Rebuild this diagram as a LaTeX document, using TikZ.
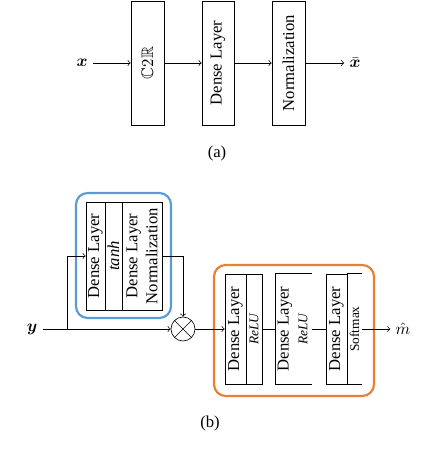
\documentclass[tikz,border=0pt]{standalone}
\usepackage{amsmath,amssymb,bm}
\usepackage{fontspec}
\setmainfont{Liberation Serif}
\definecolor{encblue}{RGB}{91,155,213}
\definecolor{decorange}{RGB}{237,125,49}
\tikzset{
  layer/.style={draw, rotate=90, inner sep=0pt, align=center},
  openlayer/.style={rotate=90, inner sep=0pt, align=center},
  group/.style={draw, line width=1.3pt, rounded corners=7pt},
  lbl/.style={inner sep=3pt},
}
\begin{document}
\begin{tikzpicture}[x=0.6pt, y=-0.6pt]
    \useasboundingbox (0,0) rectangle (434,468);

    \node[lbl] (x) at (82,63) {$\bm{x}$};
    \node[layer, minimum width=74.4pt, minimum height=19.8pt] (c2r) at (147.5,63) {$\mathbb{C}2\mathbb{R}$};
    \node[layer, minimum width=74.4pt, minimum height=19.2pt] (dense) at (218,63) {Dense Layer};
    \node[layer, minimum width=74.4pt, minimum height=19.8pt] (norm) at (288.5,63) {Normalization};
    \node[lbl] (xbar) at (355,63) {$\bar{\bm{x}}$};
    \node (a) at (217,153) {(a)};

    \draw[->] (x) -- (c2r);
    \draw[->] (c2r) -- (dense);
    \draw[->] (dense) -- (norm);
    \draw[->] (norm) -- (xbar);

    \node[group, draw=encblue, minimum width=57pt, minimum height=75pt] (enc) at (123.5,255.5) {};
    \node[layer, minimum width=64.8pt, minimum height=11.4pt] (e1) at (95.5,256) {Dense Layer};
    \node[layer, minimum width=64.8pt, minimum height=10.2pt, font=\itshape] (e2) at (113.5,256) {tanh};
    \node[layer, minimum width=64.8pt, minimum height=24pt] (e3) at (142,256) {Dense Layer\\Normalization};

    \node[lbl] (y) at (32,329) {$\bm{y}$};
    \coordinate (sp) at (67,329);
    \node[draw, circle, minimum size=14.4pt, inner sep=0pt] (mul) at (183,329) {};
    \draw (mul.north west) -- (mul.south east) (mul.north east) -- (mul.south west);

    \draw (y) -- (sp);
    \draw[->] (sp) -- (mul);
    \draw[->] (sp) |- (e1);
    \draw[->] (e3) -| (mul);

    \node[group, draw=decorange, minimum width=96pt, minimum height=78.6pt] (dec) at (294,330.5) {};
    \node[layer, minimum width=66pt, minimum height=12.6pt] (d1) at (235.5,329) {Dense Layer};
    \node[layer, minimum width=66pt, minimum height=9.6pt, font=\footnotesize\itshape] (d2) at (254,329) {ReLU};
    \node[openlayer, minimum width=66pt, minimum height=10.8pt] (d3) at (285,329) {Dense Layer};
    \node[openlayer, minimum width=66pt, minimum height=10.8pt, font=\footnotesize\itshape] (d4) at (303,329) {ReLU};
    \draw (d4.south east) -- (d3.north east) -- (d3.north west) -- (d4.south west);
    \node[layer, minimum width=66pt, minimum height=12.6pt] (d5) at (336.5,329) {Dense Layer};
    \node[openlayer, minimum width=66pt, minimum height=9pt, font=\footnotesize] (d6) at (354.5,329) {Softmax};
    \draw (d5.south east) -- (d6.south east) (d5.south west) -- (d6.south west);
    \node[lbl] (mh) at (403,329) {$\hat{m}$};
    \node (b) at (210,423) {(b)};

    \draw[->] (mul) -- (d1);
    \draw (d2) -- (d3);
    \draw (d4) -- (d5);
    \draw[->] (d6) -- (mh);
\end{tikzpicture}
\end{document}
